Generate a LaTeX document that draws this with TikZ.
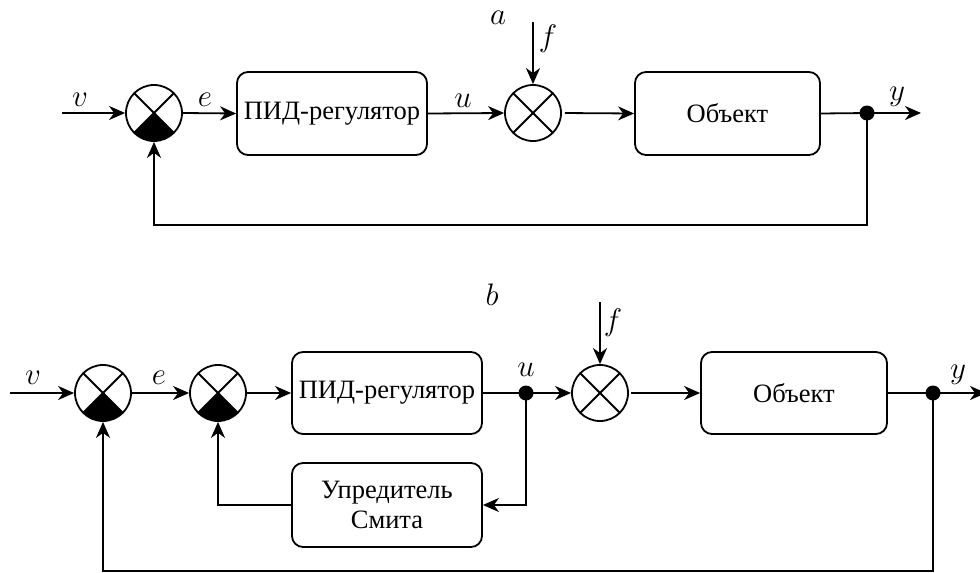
\documentclass[tikz,border=0pt]{standalone}
\usepackage{graphicx}
\usepackage{fontspec}
\setmainfont{Liberation Serif}
\usetikzlibrary{arrows.meta,calc}
\newcommand\mlab[1]{\scalebox{1.25}{$#1$}}
\begin{document}
\begin{tikzpicture}[x=1pt,y=-1pt,
  line width=1.8pt,
  arr/.style={-{Stealth[length=16pt,width=14pt,inset=5pt]}},
  blk/.style={draw, rounded corners=11pt, inner sep=0pt, align=center,
    font=\fontsize{26.5}{30}\selectfont},
  sumq/.style={circle, draw, minimum size=56pt, inner sep=0pt,
    path picture={
      \fill (path picture bounding box.center) -- ++(-135:30pt) arc[start angle=-135,end angle=-45,radius=30pt] -- cycle;
      \draw (path picture bounding box.north west) -- (path picture bounding box.south east);
      \draw (path picture bounding box.north east) -- (path picture bounding box.south west);}},
  sumx/.style={circle, draw, minimum size=56pt, inner sep=0pt,
    path picture={
      \draw (path picture bounding box.north west) -- (path picture bounding box.south east);
      \draw (path picture bounding box.north east) -- (path picture bounding box.south west);}},
  dot/.style={circle, fill, minimum size=15pt, inner sep=0pt},
  lbl/.style={inner sep=0pt, font=\fontsize{24.88}{30}\selectfont}]
\useasboundingbox (0,0) rectangle (980,573);
% ---------- a ----------
\node[sumq] (s1) at (154,113) {};
\node[blk, minimum width=190pt, minimum height=83pt] (pid) at (332,113.5) {ПИД-регулятор};
\node[sumx] (s2) at (533,113) {};
\node[blk, minimum width=185pt, minimum height=83pt] (obj) at (727.5,113.5) {Объект};
\node[dot] (d1) at (867,113) {};
\coordinate (vin) at (62,113);
\coordinate (yout) at (921,113);
\coordinate (ftop) at (533,22);
\coordinate (fbA) at (0,225);
\draw[arr] (vin) -- (s1.west);
\draw[arr] (s1.east) -- (pid.west);
\draw[arr] (pid.east) -- (s2.west);
\draw[arr] (ftop) -- (s2.north);
\draw[arr, shorten <=3pt] (s2.east) -- (obj.west);
\draw (obj.east) -- (d1.center);
\draw[arr] (d1.center) -- (yout);
\draw[arr] (d1.center) -- (d1 |- fbA) -| (s1.south);
\node[lbl] (la) at (498,17.5) {\mlab{a}};
\node[lbl] (lv1) at (80,100) {\mlab{v}};
\node[lbl] (le1) at (205,100) {\mlab{e}};
\node[lbl] (lu1) at (463,101) {\mlab{u}};
\node[lbl] (lf1) at (548,39) {\mlab{f}};
\node[lbl] (ly1) at (897,97) {\mlab{y}};
% ---------- b ----------
\node[sumq] (b1) at (103,393) {};
\node[sumq] (b2) at (218,393) {};
\node[blk, minimum width=190pt, minimum height=82pt] (pid2) at (387,393) {ПИД-регулятор};
\node[dot] (du) at (526,393) {};
\node[sumx] (b3) at (600,393) {};
\node[blk, minimum width=186pt, minimum height=82pt] (obj2) at (794,393) {Объект};
\node[dot] (d3) at (933,393) {};
\node[blk, minimum width=190pt, minimum height=84pt] (smith) at (387,505) {Упредитель\\Смита};
\coordinate (vin2) at (10,393);
\coordinate (yout2) at (986,393);
\coordinate (ftop2) at (600,302);
\coordinate (fbB) at (0,571);
\draw[arr] (vin2) -- (b1.west);
\draw[arr] (b1.east) -- (b2.west);
\draw[arr] (b2.east) -- (pid2.west);
\draw (pid2.east) -- (du.center);
\draw[arr] (du.center) -- (b3.west);
\draw[arr] (ftop2) -- (b3.north);
\draw[arr, shorten <=2pt] (b3.east) -- (obj2.west);
\draw (obj2.east) -- (d3.center);
\draw[arr] (d3.center) -- (yout2);
\draw[arr] (du.center) -- (du |- smith) -- (smith.east);
\draw[arr] (smith.west) -| (b2.south);
\draw[arr] (d3.center) -- (d3 |- fbB) -| (b1.south);
\node[lbl] (lb) at (492,295) {\mlab{b}};
\node[lbl] (lv2) at (33,378) {\mlab{v}};
\node[lbl] (le2) at (159,378) {\mlab{e}};
\node[lbl] (lu2) at (526,370) {\mlab{u}};
\node[lbl] (lf2) at (613,323) {\mlab{f}};
\node[lbl] (ly2) at (958,375) {\mlab{y}};
\end{tikzpicture}
\end{document}
